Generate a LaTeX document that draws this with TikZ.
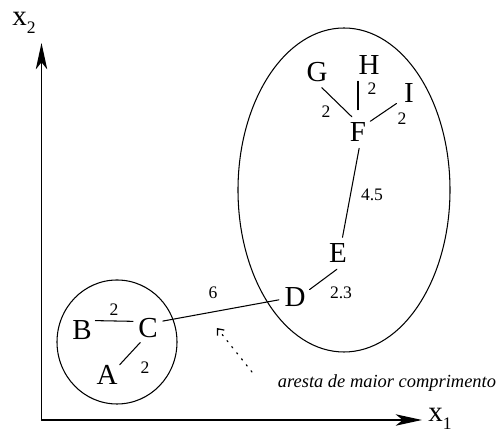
\documentclass[tikz,border=0pt]{standalone}
\usepackage{fontspec}
\setmainfont{Liberation Serif}
\newfontfamily\timesfont{Liberation Serif}
\usetikzlibrary{arrows.meta}
\tikzset{
    every picture/.style={line cap=round,line join=round},
    vertex/.style={circle,inner sep=0pt,minimum size=6.4mm,
      font=\timesfont\fontsize{16.5}{18}\selectfont},
    weight/.style={inner sep=0pt,font=\timesfont\fontsize{10}{12}\selectfont},
    link/.style={draw=black,line width=0.6pt},
    cluster/.style={draw=black,line width=0.6pt},
    axis/.style={-{Stealth[length=15pt,width=6.5pt,inset=4pt]},line width=0.7pt},
    axislabel/.style={inner sep=0pt,anchor=base west,
      font=\timesfont\fontsize{16.5}{18}\selectfont},
    hint/.style={-{Straight Barb[length=3pt,width=5pt]},line width=0.7pt,
      dash pattern=on 0.8pt off 3.6pt},
    note/.style={inner sep=0pt,font=\timesfont\fontsize{10.5}{12}\selectfont\itshape}
}
\newcommand{\subidx}[1]{\raisebox{-4pt}{\fontsize{10}{12}\selectfont #1}}

\begin{document}
\begin{tikzpicture}[x=0.02cm,y=0.02cm]
  \useasboundingbox (0,0) rectangle (501,432);
  % axes
  \coordinate (origin) at (41.5,12);
  \coordinate (xend) at (422,12);
  \coordinate (yend) at (41.5,389);
  \draw[axis] (origin)--(xend);
  \draw[axis] (origin)--(yend);
  \node[axislabel] (xlab) at (428,10) {x\subidx{1}};
  \node[axislabel] (ylab) at (12,406) {x\subidx{2}};
  % clusters
  \draw[cluster] (117,90) ellipse [x radius=60,y radius=62];
  \draw[cluster] (344,242) ellipse [x radius=106,y radius=162];
  % vertices
  \node[vertex] (A) at (107,57) {A};
  \node[vertex] (B) at (82,102) {B};
  \node[vertex] (C) at (148,104) {C};
  \node[vertex] (D) at (295,135) {D};
  \node[vertex] (E) at (338,179) {E};
  \node[vertex] (F) at (358,300) {F};
  \node[vertex] (G) at (317,360) {G};
  \node[vertex] (H) at (369,367) {H};
  \node[vertex] (I) at (409,339) {I};
  % edges
  \draw[link] (B.35)--(C.156);
  \draw[link] (A.39)--(C.242);
  \draw[link] (C.25)--(D.190);
  \draw[link] (D.27)--(E.266);
  \draw[link] (F.-86)--(E.74);
  \draw[link] (G.-73)--(F.112);
  \draw[link,shorten <=3.4pt] (F.north)--(F.north |- H.south);
  \draw[link] (I.220)--(F.41);
  % weights
  \node[weight] (wBC) at (114,122) {2};
  \node[weight] (wAC) at (145,64) {2};
  \node[weight] (wCD) at (213,139) {6};
  \node[weight] (wDE) at (341,139) {2.3};
  \node[weight] (wEF) at (372,237) {4.5};
  \node[weight] (wGF) at (326,320) {2};
  \node[weight] (wHF) at (372,343) {2};
  \node[weight] (wIF) at (402,313) {2};
  % longest edge hint
  \coordinate (hintTail) at (252,60);
  \coordinate (hintTip) at (217,104);
  \draw[hint] (hintTail)--(hintTip);
  \node[note] (note) at (387,49) {aresta de maior comprimento};
\end{tikzpicture}
\end{document}
